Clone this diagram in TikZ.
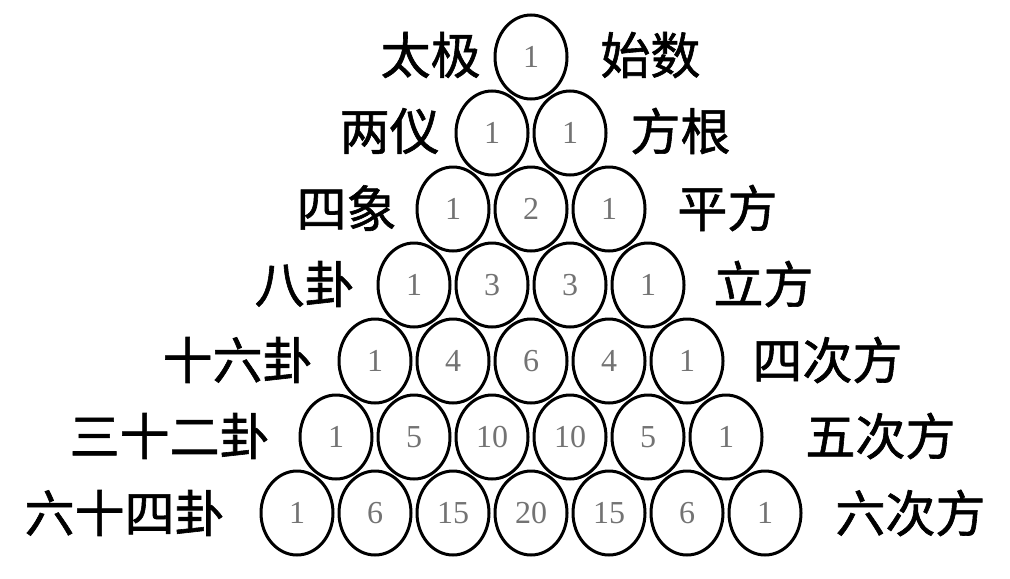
\documentclass[tikz,border=0pt]{standalone}
\usepackage{fontspec}
\setmainfont{Liberation Serif}
\newfontfamily\cjk[FakeBold=1.2]{Noto Sans CJK SC}
\usetikzlibrary{shapes.geometric}
\begin{document}
\begin{tikzpicture}[x=0.5pt,y=-0.5pt,
        coin/.style={draw,ellipse,line width=1.5pt,minimum width=36pt,minimum height=42pt,
            inner sep=0pt,text=black!55,font=\fontsize{16}{16}\selectfont},
        tag/.style={inner sep=0pt,font=\cjk\fontsize{25}{25}\selectfont}]
        \useasboundingbox (0,0) rectangle (1010,578);
        %% Triangle of numbers
        \foreach \r/\vals in {0/{1},1/{1,1},2/{1,2,1},3/{1,3,3,1},4/{1,4,6,4,1},
            5/{1,5,10,10,5,1},6/{1,6,15,20,15,6,1}}{
            \foreach \v [count=\k from 0] in \vals
                \node[coin] (c\r-\k) at ({531+(\k-\r/2)*78},{57+\r*76}) {\v};
        }
        %% Left names
        \node[tag,anchor=east] (L0) at (481,55) {太极};
        \node[tag,anchor=east] (L1) at (440,131) {两仪};
        \node[tag,anchor=east] (L2) at (397,208) {四象};
        \node[tag,anchor=east] (L3) at (355,284) {八卦};
        \node[tag,anchor=east] (L4) at (313,360) {十六卦};
        \node[tag,anchor=east] (L5) at (270,436) {三十二卦};
        \node[tag,anchor=east] (L6) at (225,513) {六十四卦};
        %% Right names
        \node[tag,anchor=west] (R0) at (600,55) {始数};
        \node[tag,anchor=west] (R1) at (630,131) {方根};
        \node[tag,anchor=west] (R2) at (677,208) {平方};
        \node[tag,anchor=west] (R3) at (713,284) {立方};
        \node[tag,anchor=west] (R4) at (752,360) {四次方};
        \node[tag,anchor=west] (R5) at (805,436) {五次方};
        \node[tag,anchor=west] (R6) at (835,513) {六次方};
    \end{tikzpicture}
\end{document}
